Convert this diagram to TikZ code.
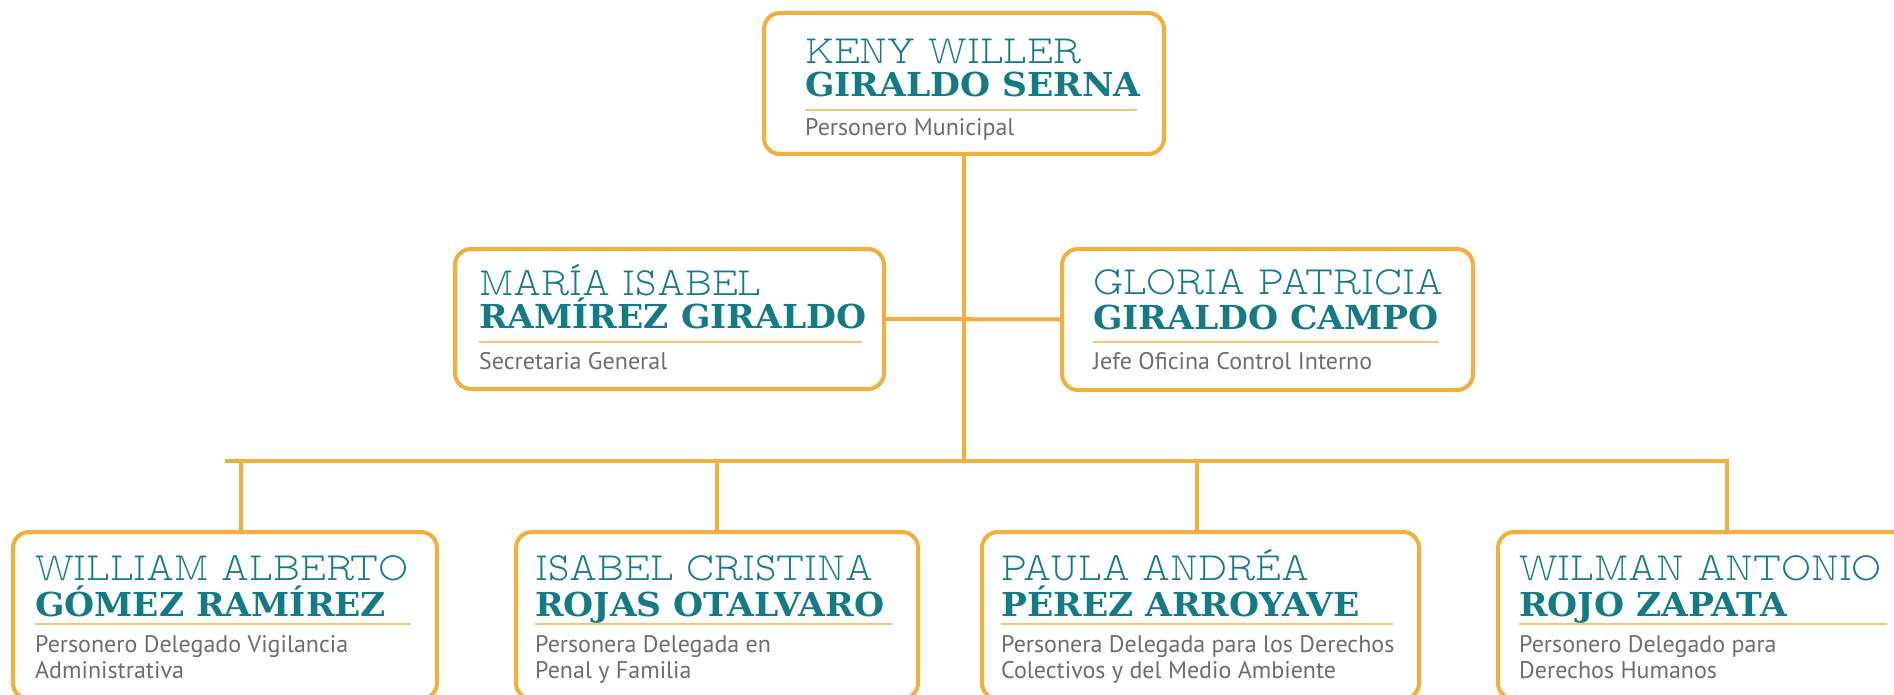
\documentclass[tikz,border=0pt]{standalone}
\usepackage{fontspec}
\setmainfont{PT Sans}
\newfontfamily\lightslab{lmmonoproplt10-regular.otf}[FakeStretch=0.92]
\newfontfamily\boldslab{DejaVu Serif}[FakeStretch=1.045]
\definecolor{orng}{HTML}{F2AF3D}
\definecolor{rulec}{HTML}{F5C670}
\definecolor{teal}{HTML}{137B83}
\definecolor{grayt}{HTML}{6D6E70}
\begin{document}
\begin{tikzpicture}[x=1pt,y=-1pt,
  box/.style={draw=orng, line width=4pt, rounded corners=16pt, fill=white, rectangle, inner sep=0pt},
  conn/.style={draw=orng, line width=4pt},
  first/.style={anchor=base west, inner sep=0pt, text=teal, font=\lightslab\fontsize{40}{40}\selectfont},
  last/.style={anchor=base west, inner sep=0pt, text=teal, font=\boldslab\bfseries\fontsize{33}{33}\selectfont},
  role/.style={anchor=base west, inner sep=0pt, text=grayt, font=\fontsize{24}{26}\selectfont, align=left},
  sep/.style={draw=rulec, line width=1.5pt}]
\useasboundingbox (0,0) rectangle (1894,695);
\clip (0,0) rectangle (1894,695);
\fill[white] (0,0) rectangle (1894,695);

% boxes
\node[box, minimum width=400pt, minimum height=141pt] (top) at (964,83.5) {};
\node[box, minimum width=429pt, minimum height=140pt] (ml) at (669.5,319) {};
\node[box, minimum width=411pt, minimum height=141pt] (mr) at (1267.5,319.5) {};
\node[box, minimum width=424pt, minimum height=167pt] (b1) at (225,615.5) {};
\node[box, minimum width=402pt, minimum height=167pt] (b2) at (717,615.5) {};
\node[box, minimum width=437pt, minimum height=167pt] (b3) at (1200.5,615.5) {};
\node[box, minimum width=412pt, minimum height=167pt] (b4) at (1704,615.5) {};

% connectors
\coordinate (busL) at (225,461);
\coordinate (busM) at (964,461);
\coordinate (busR) at (1727,461);
\draw[conn] (top.south) -- (busM);
\draw[conn] (ml.east) -- (mr.west);
\draw[conn] (busL) -- (busR) -- (busR |- b4.north);
\draw[conn] (241,461) -- (241,532);
\draw[conn] (717,461) -- (b2.north);
\draw[conn] (1197,461) -- (1197,532);

% top
\node[first] (t1) at (805,64) {KENY WILLER};
\node[last] (t2) at (805,97) {GIRALDO SERNA};
\draw[sep] (805,110) -- (1137,110);
\node[role] (t3) at (805,136) {Personero Municipal};

% middle left
\node[first] (l1) at (479,295) {MARÍA ISABEL};
\node[last] (l2) at (479,328) {RAMÍREZ GIRALDO};
\draw[sep] (479,342) -- (862,342);
\node[role] (l3) at (479,369) {Secretaria General};

% middle right
\node[first] (r1) at (1093,294) {GLORIA PATRICIA};
\node[last] (r2) at (1093,329) {GIRALDO CAMPO};
\draw[sep] (1093,342) -- (1439,342);
\node[role] (r3) at (1093,369) {Jefe Oficina Control Interno};

% bottom 1
\node[first] (a1) at (35,580) {WILLIAM ALBERTO};
\node[last] (a2) at (35,616) {GÓMEZ RAMÍREZ};
\draw[sep] (35,624) -- (411,624);
\node[role] (a3) at (35,678) {Personero Delegado Vigilancia\\Administrativa};

% bottom 2
\node[first] (c1) at (535,580) {ISABEL CRISTINA};
\node[last] (c2) at (535,616) {ROJAS OTALVARO};
\draw[sep] (535,624) -- (892,624);
\node[role] (c3) at (535,678) {Personera Delegada en\\Penal y Familia};

% bottom 3
\node[first] (d1) at (1001,580) {PAULA ANDRÉA};
\node[last] (d2) at (1001,616) {PÉREZ ARROYAVE};
\draw[sep] (1001,624) -- (1393,624);
\node[role] (d3) at (1001,678) {Personera Delegada para los Derechos\\Colectivos y del Medio Ambiente};

% bottom 4
\node[first] (e1) at (1519,580) {WILMAN ANTONIO};
\node[last] (e2) at (1519,616) {ROJO ZAPATA};
\draw[sep] (1519,624) -- (1887,624);
\node[role] (e3) at (1519,678) {Personero Delegado para\\Derechos Humanos};
\end{tikzpicture}
\end{document}
